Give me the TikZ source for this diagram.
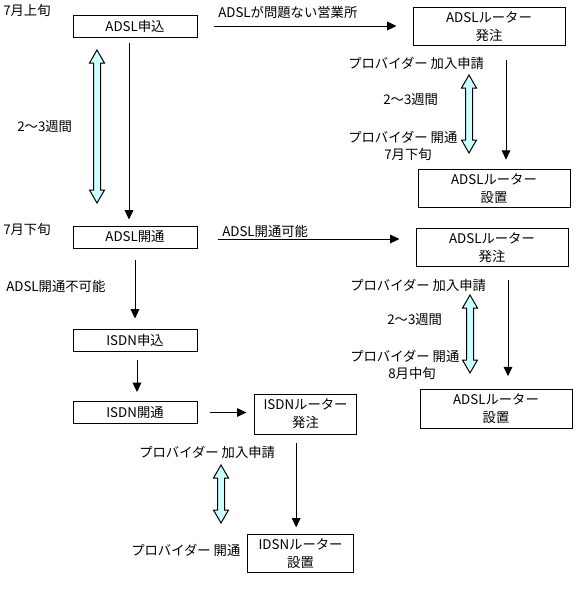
\documentclass[tikz,border=0pt]{standalone}
\usepackage{fontspec}
\setmainfont{Noto Sans CJK JP}
\usepackage{xcolor}
\usepackage{tikz}
\usetikzlibrary{arrows.meta}
\definecolor{paleblue}{HTML}{CCFFFF}

\begin{document}
\begin{tikzpicture}[x=0.75pt,y=-0.75pt,
		font=\fontsize{10}{13.5}\selectfont,
		box/.style={draw,line width=0.75pt,inner sep=0pt,align=center},
		shortbox/.style={box,minimum width=93pt,minimum height=16.5pt},
		routerbox/.style={box,minimum width=114pt,minimum height=29pt},
		lbl/.style={anchor=west,inner sep=0pt},
		flow/.style={line width=0.75pt,-{Triangle[length=7pt,width=6.5pt]}},
		span/.style={draw,line width=0.75pt,fill=paleblue}]
			\useasboundingbox (0,0) rectangle (578,608);

			% left column
			\node[shortbox] (apply) at (135,26) {ADSL申込};
			\node[shortbox] (open) at (135,237) {ADSL開通};
			\node[shortbox] (isdnapply) at (135,340) {ISDN申込};
			\node[shortbox] (isdnopen) at (135,412.5) {ISDN開通};

			% routers
			\node[routerbox] (order1) at (489,26.5) {ADSLルーター\\発注};
			\node[routerbox] (install1) at (494,188.5) {ADSLルーター\\設置};
			\node[routerbox] (order2) at (492,247.5) {ADSLルーター\\発注};
			\node[routerbox] (install2) at (496,409) {ADSLルーター\\設置};
			\node[box,minimum width=76pt,minimum height=30pt] (isdnorder) at (305.5,414) {ISDNルーター\\発注};
			\node[box,minimum width=79pt,minimum height=28pt] (isdninstall) at (300.5,553.5) {IDSNルーター\\設置};

			% labels
			\node[lbl] (early7) at (3,10) {7月上旬};
			\node[lbl] (late7) at (3,229) {7月下旬};
			\node[lbl] (weeks) at (17,127) {2〜3週間};
			\node[lbl] (ng) at (6,286) {ADSL開通不可能};
			\node[lbl] (okarea) at (218,12) {ADSLが問題ない営業所};
			\node[lbl] (ok) at (222,231) {ADSL開通可能};
			\node[lbl] (join1) at (348,63) {プロバイダー 加入申請};
			\node[lbl] (weeks1) at (383,100) {2〜3週間};
			\node[lbl] (start1) at (348,137) {プロバイダー 開通};
			\node[lbl] (date1) at (384,154) {7月下旬};
			\node[lbl] (join2) at (350,285) {プロバイダー 加入申請};
			\node[lbl] (weeks2) at (387,320) {2〜3週間};
			\node[lbl] (start2) at (350,356) {プロバイダー 開通};
			\node[lbl] (date2) at (388,373) {8月中旬};
			\node[lbl] (join3) at (139,452) {プロバイダー 加入申請};
			\node[lbl] (start3) at (131,550) {プロバイダー 開通};

			% arrows
			\draw[flow,shorten <=3.75pt,shorten >=4.5pt] ([xshift=-4.5pt]apply.south) -- ([xshift=-4.5pt]apply.south |- open.north);
			\draw[flow,shorten <=12pt,shorten >=12pt] (apply.east) -- (apply.east -| order1.west);
			\draw[flow,shorten <=10.5pt,shorten >=6.75pt] ([xshift=12.75pt]order1.south) -- ([xshift=12.75pt]order1.south |- install1.north);
			\draw[flow,shorten <=15pt,shorten >=12pt] ([yshift=-1.5pt]open.east) -- ([yshift=-1.5pt]open.east -| order2.west);
			\draw[flow,shorten <=9.75pt,shorten >=9.75pt] ([xshift=12pt]order2.south) -- ([xshift=12pt]order2.south |- install2.north);
			\draw[flow,shorten <=8.25pt,shorten >=7.5pt] (open.south) -- (isdnapply.north);
			\draw[flow,shorten <=6pt,shorten >=6.75pt] ([xshift=1.5pt]isdnapply.south) -- ([xshift=1.5pt]isdnapply.south |- isdnopen.north);
			\draw[flow,shorten <=9pt,shorten >=6pt] (isdnopen.east) -- (isdnopen.east -| isdnorder.west);
			\draw[flow,shorten <=6pt,shorten >=5.25pt] ([xshift=-7pt]isdnorder.south) -- ([xshift=-7pt]isdnorder.south |- isdninstall.north);

			% periods
			\foreach \x/\ya/\yb in {97/50/203, 469/75/153, 470/295/373, 221/465/523}
				\draw[span] (\x,\ya) -- ++(7.5,13) -- ++(-4,0) -- (\x+3.5,\yb-13) -- ++(4,0) -- (\x,\yb)
					-- ++(-7.5,-13) -- ++(4,0) -- (\x-3.5,\ya+13) -- ++(-4,0) -- cycle;
		\end{tikzpicture}
\end{document}
